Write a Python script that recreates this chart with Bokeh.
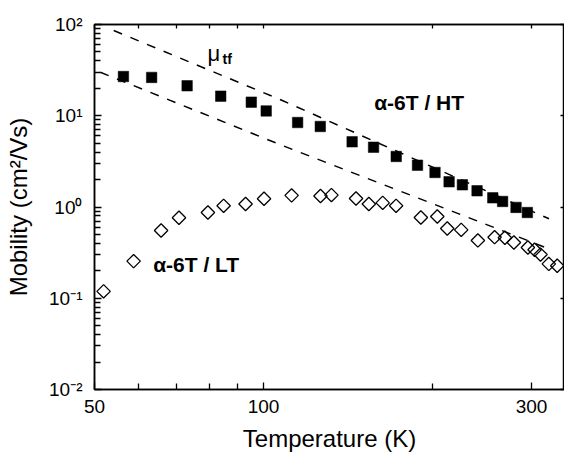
import math
from bokeh.plotting import figure
from bokeh.models import Range1d, FixedTicker, LogAxis
from bokeh.core.properties import value
from bokeh.embed import file_html
from bokeh.resources import INLINE

# --- data -------------------------------------------------------------
T_ht = [56.3, 63.2, 73.1, 83.9, 95.1, 101.1, 115.0, 126.2, 143.8, 157.0,
        172.3, 188.0, 202.0, 214.0, 226.0, 240.0, 256.0, 266.5, 281.6, 295.0]
mu_ht = [26.9, 26.3, 21.3, 16.4, 14.1, 11.3, 8.43, 7.63, 5.18, 4.52,
         3.58, 2.87, 2.39, 1.89, 1.75, 1.505, 1.26, 1.15, 0.99, 0.87]

T_lt = [51.9, 58.7, 65.7, 70.7, 79.6, 84.9, 92.9, 100.2, 112.2, 126.3,
        132.1, 146.1, 154.0, 163.0, 172.2, 190.6, 203.9, 212.4, 224.9, 240.8,
        257.9, 269.0, 279.1, 295.6, 303.8, 311.3, 322.1, 333.4]
mu_lt = [0.119, 0.255, 0.552, 0.762, 0.870, 1.03, 1.08, 1.23, 1.34, 1.32,
         1.35, 1.24, 1.08, 1.11, 1.03, 0.767, 0.787, 0.581, 0.562, 0.430,
         0.467, 0.460, 0.408, 0.360, 0.340, 0.301, 0.238, 0.227]

T_tf_upper = [54.1, 108.0, 322.4]
mu_tf_upper = [85.9, 14.7, 0.743]
T_tf_lower = [51.2, 108.0, 322.4]
mu_tf_lower = [30.0, 4.72, 0.348]

x_major = [50, 100, 300]
x_minor = [60, 70, 80, 90, 200]
x_labels = {50: "50", 100: "100", 300: "300"}
y_major = [0.01, 0.1, 1, 10, 100]
y_minor = [m * 10.0 ** e for e in range(-2, 2) for m in range(2, 10)]
y_labels = {0.01: "10\u207b\u00b2", 0.1: "10\u207b\u00b9", 1: "10\u2070",
            10: "10\u00b9", 100: "10\u00b2"}

label_ht = "\u03b1-6T / HT"
label_lt = "\u03b1-6T / LT"
label_mu = "\u03bc"
label_mu_sub = "tf"

FONT = "Liberation Sans"

p = figure(x_axis_type="log", y_axis_type="log",
           x_range=Range1d(50, 343.5), y_range=Range1d(0.01, 100),
           frame_width=470, frame_height=365,
           min_border_left=94, min_border_right=0,
           min_border_top=24, min_border_bottom=67,
           output_backend="svg", toolbar_location=None,
           background_fill_color="white", border_fill_color="white")
p.grid.visible = False
p.outline_line_color = "black"
p.outline_line_width = 1.5

xa = p.xaxis[0]
xa.ticker = FixedTicker(ticks=x_major, minor_ticks=x_minor)
xa.major_label_overrides = x_labels
xa.axis_label = "Temperature (K)"
ya = p.yaxis[0]
ya.ticker = FixedTicker(ticks=y_major, minor_ticks=y_minor)
ya.major_label_overrides = y_labels
ya.axis_label = "Mobility (cm\u00b2/Vs)"

for ax in (xa, ya):
    ax.axis_line_color = "black"
    ax.axis_line_width = 1.5
    ax.major_tick_line_color = "black"
    ax.minor_tick_line_color = "black"
    ax.major_tick_line_width = 1.3
    ax.minor_tick_line_width = 1.3
    ax.major_tick_in = 7
    ax.major_tick_out = 0
    ax.minor_tick_in = 6
    ax.minor_tick_out = 0
    ax.major_label_text_font = FONT
    ax.major_label_text_font_size = "19px"
    ax.major_label_text_color = "black"
    ax.axis_label_text_font = FONT
    ax.axis_label_text_font_size = "24px"
    ax.axis_label_text_font_style = "normal"
    ax.axis_label_text_color = "black"

xa.major_label_standoff = 10
xa.axis_label_standoff = 9
ya.major_label_standoff = 12
ya.axis_label_standoff = 14

# mirrored axes (ticks only)
top = LogAxis(ticker=FixedTicker(ticks=x_major, minor_ticks=x_minor))
right = LogAxis(ticker=FixedTicker(ticks=y_major, minor_ticks=[]))
for ax, ticks in ((top, x_major), (right, y_major)):
    ax.major_label_text_font_size = "0px"
    ax.major_label_standoff = 0
    ax.major_label_overrides = {t: "" for t in ticks}
    ax.axis_line_color = "black"
    ax.axis_line_width = 1.5
    ax.major_tick_in = 4
    ax.major_tick_out = 0
    ax.minor_tick_in = 4
    ax.minor_tick_out = 0
    ax.major_tick_line_width = 1.3
    ax.minor_tick_line_width = 1.3
p.add_layout(top, "above")
p.add_layout(right, "right")

# theory lines
p.line(T_tf_upper, mu_tf_upper, line_color="black", line_width=1.5, line_dash="9 9")
p.line(T_tf_lower, mu_tf_lower, line_color="black", line_width=1.5, line_dash="9 9")

# data
p.scatter(T_ht, mu_ht, marker="square", size=10.5, fill_color="black", line_color="black",
          line_width=0.5)
p.scatter(T_lt, mu_lt, marker="square", angle=math.pi / 4, size=9.5,
          fill_alpha=0, line_color="black", line_width=1.3)

# annotations
p.text(x=[157.4], y=[13.8], text=[label_ht], text_font=value(FONT),
       text_font_size="21px", text_font_style="bold", text_align="left",
       text_baseline="middle", text_color="black")
p.text(x=[63.6], y=[0.236], text=[label_lt], text_font=value(FONT),
       text_font_size="21px", text_font_style="bold", text_align="left",
       text_baseline="middle", text_color="black")
p.text(x=[79.5], y=[48.7], text=[label_mu], text_font=value(FONT),
       text_font_size="22px", text_align="left",
       text_baseline="middle", text_color="black")
p.text(x=[84.5], y=[42.4], text=[label_mu_sub], text_font=value(FONT),
       text_font_size="14px", text_font_style="bold", text_align="left",
       text_baseline="middle", text_color="black")

open("out.html", "w").write(file_html(p, INLINE))
